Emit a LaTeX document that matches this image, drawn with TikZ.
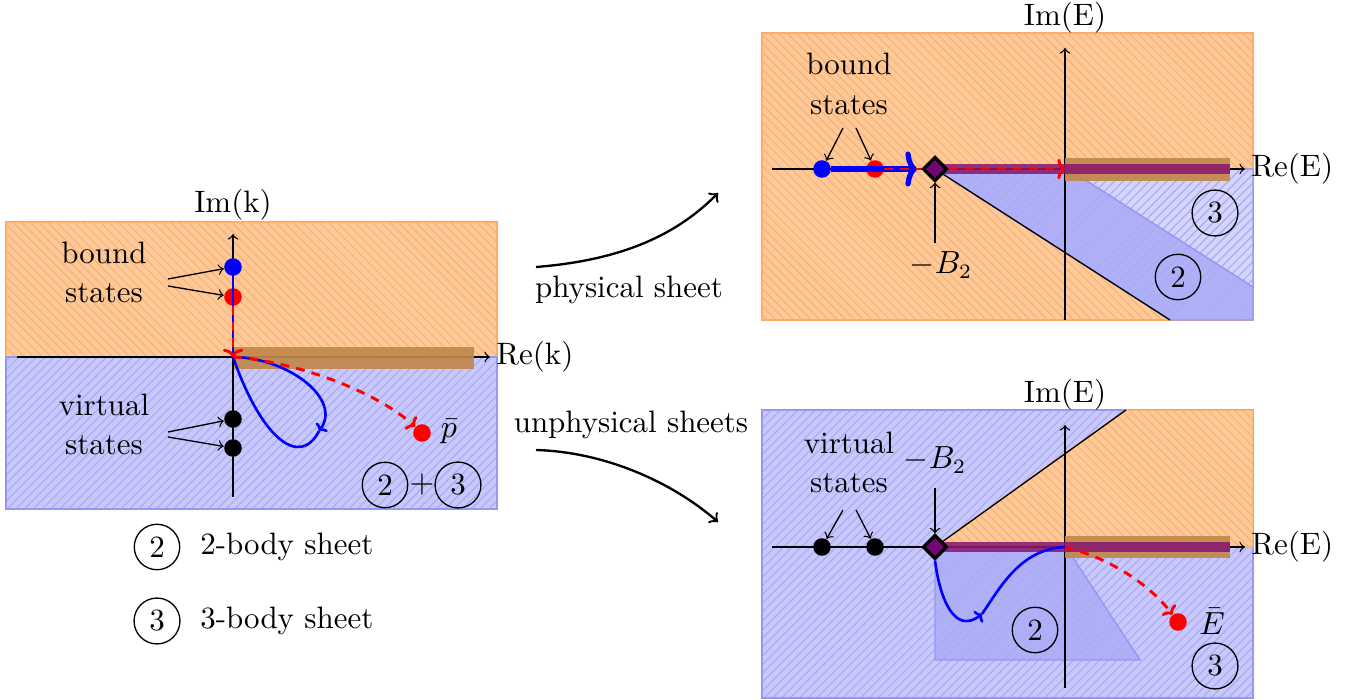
\documentclass[tikz,border=0pt]{standalone}
\usetikzlibrary{patterns,shapes.geometric,arrows.meta}
\definecolor{obg}{RGB}{255,201,151}
\definecolor{ohatch}{RGB}{246,180,125}
\definecolor{oedge}{RGB}{255,172,100}
\definecolor{bbg}{RGB}{200,200,252}
\definecolor{bhatch}{RGB}{172,172,242}
\definecolor{bedge}{RGB}{150,150,245}
\definecolor{bdark}{RGB}{176,176,249}
\definecolor{blight}{RGB}{212,212,252}
\definecolor{barc}{RGB}{194,135,75}
\definecolor{cutc}{RGB}{138,24,112}
\definecolor{diac}{RGB}{112,8,112}
\newcommand{\oarea}[1]{\fill[obg] #1; \fill[pattern=north west lines, pattern color=ohatch] #1; \draw[oedge, line width=0.5pt] #1;}
\newcommand{\barea}[2]{\fill[#2] #1; \fill[pattern=north east lines, pattern color=bhatch] #1; \draw[bedge, line width=0.5pt] #1;}
\tikzset{
  axis/.style={-to, line width=0.45pt},
  dot/.style={circle, inner sep=0pt, minimum size=6pt},
  dia/.style={diamond, draw=black, fill=diac, line width=1.1pt, inner sep=0pt, minimum width=8.2pt, minimum height=8.2pt},
  circnum/.style={circle, draw, line width=0.45pt, inner sep=2.4pt},
  blueline/.style={blue, line width=0.9pt},
  redline/.style={red, line width=1pt, dash pattern=on 3pt off 2.5pt},
  small/.style={-to, line width=0.45pt},
  big/.style={-to, line width=0.8pt},
  brownbar/.style={fill=barc, opacity=0.92},
  cut/.style={cutc, opacity=0.88, line width=3.3pt},
}
\begin{document}
\begin{tikzpicture}[x=0.3425pt, y=-0.3425pt, font=\fontsize{10.6}{13.4}\selectfont]
\useasboundingbox (0,0) rectangle (1361,700);

% ================= left panel =================
\oarea{(6,222) rectangle (497,357)}
\barea{(6,357) rectangle (497,509)}{bbg}
\coordinate (kO) at (233,357);
\coordinate (kRs) at (17,357);
\coordinate (kRe) at (490,357);
\coordinate (kIs) at (233,497);
\coordinate (kIe) at (233,234);
\draw[axis] (kRs) -- (kRe);
\fill[brownbar] (233,347) rectangle (474,369);
\draw[axis] (kIs) -- (kIe);
\node[anchor=west, inner sep=2pt] (kRel) at (kRe) {Re(k)};
\node (kIml) at (233,205) {Im(k)};

\node[dot, fill=blue] (kb1) at (233,267) {};
\node[dot, fill=red] (kb2) at (233,297) {};
\node[dot, fill=black] (kv1) at (233,419) {};
\node[dot, fill=black] (kv2) at (233,448) {};
\node[dot, fill=red] (pbar) at (422,433) {};
\node (pbarl) at (449,432) {$\bar p$};

\draw[blueline] (kb1) -- (kO);
\draw[redline, -{To[length=2.8pt,width=7pt]}] (kb2) -- (kO);

\coordinate (kM) at (319,431);
\draw[blueline, -{To[length=2pt,width=5pt]}] (kO) .. controls (290,358) and (342,400) .. (kM);
\draw[blueline] (kM) .. controls (300,468) and (262,440) .. (kO);
\draw[redline, -{To[length=2.4pt,width=6pt]}] (kO) .. controls (300,362) and (378,393) .. (pbar);

\node[align=center] (kbound) at (104,272) {bound\\states};
\node[align=center] (kvirt) at (104,424) {virtual\\states};
\coordinate (kbA) at (168,279);
\coordinate (kbB) at (168,286);
\coordinate (kvA) at (168,432);
\coordinate (kvB) at (168,437);
\draw[small] (kbA) -- (kb1);
\draw[small] (kbB) -- (kb2);
\draw[small] (kvA) -- (kv1);
\draw[small] (kvB) -- (kv2);

\node[circnum] (k2) at (385,485) {2};
\node (kplus) at (422,485) {$+$};
\node[circnum] (k3) at (458,485) {3};

% legend
\node[circnum] (lg2) at (157,547) {2};
\node[anchor=west] (lg2t) at (190,547) {2-body sheet};
\node[circnum] (lg3) at (157,621) {3};
\node[anchor=west] (lg3t) at (190,621) {3-body sheet};

% middle arrows
\node (phys) at (629,290) {physical sheet};
\node (unphys) at (631,425) {unphysical sheets};
\coordinate (pA) at (536,267);
\coordinate (pB) at (718,193);
\coordinate (uA) at (536,450);
\coordinate (uB) at (718,522);
\draw[big] (pA) .. controls (612,261) and (672,240) .. (pB);
\draw[big] (uA) .. controls (605,452) and (672,482) .. (uB);

% ================= top right panel =================
\oarea{(762,33) rectangle (1253,320)}
\barea{(935,169) -- (1170,320) -- (1253,320) -- (1253,169) -- cycle}{bdark}
\barea{(1068,169) -- (1253,287) -- (1253,169) -- cycle}{blight}
\coordinate (tO) at (1065,169);
\coordinate (tCe) at (1230,169);
\coordinate (tL) at (1170,320);
\coordinate (tRs) at (772,169);
\coordinate (tRe) at (1245,169);
\coordinate (tIs) at (1065,320);
\coordinate (tIe) at (1065,48);
\node[dia] (tD) at (935,169) {};
\draw[line width=0.45pt] (tD.center) -- (tL);
\draw[axis] (tRs) -- (tRe);
\draw[axis] (tIs) -- (tIe);
\fill[brownbar] (1065,158) rectangle (1230,181);
\draw[cut] (tD.center) -- (tCe);
\node[anchor=west, inner sep=2pt] (tRel) at (tRe) {Re(E)};
\node (tIml) at (1065,18) {Im(E)};

\node[dot, fill=blue] (tb1) at (822,169) {};
\node[dot, fill=red] (tb2) at (875,169) {};
\draw[blue, line width=1.8pt, -{To[length=4pt,width=12pt]}, shorten >=1.5pt] (tb1) -- (tD);
\draw[redline, -{To[length=2.6pt,width=7pt]}] (tb2) -- (tO);
\node[dia] (tD2) at (tD) {};

\node[align=center] (tbound) at (849,84) {bound\\states};
\coordinate (tbA) at (843,128);
\coordinate (tbB) at (856,128);
\draw[small] (tbA) -- (tb1);
\draw[small] (tbB) -- (tb2);
\node (tB2) at (941,265) {$-B_2$};
\coordinate (tBa) at (935,243);
\draw[small] (tBa) -- (tD2);
\node[circnum] (t3) at (1215,213) {3};
\node[circnum] (t2) at (1178,277) {2};

% ================= bottom right panel =================
\barea{(762,410) rectangle (1253,698)}{bbg}
\oarea{(935,547) -- (1126,410) -- (1253,410) -- (1253,547) -- cycle}
\barea{(935,547) -- (935,660) -- (1140,660) -- (1066,547) -- cycle}{bdark}
\coordinate (bO) at (1065,547);
\coordinate (bCe) at (1230,547);
\coordinate (bL) at (1126,410);
\coordinate (bRs) at (772,547);
\coordinate (bRe) at (1245,547);
\coordinate (bIs) at (1065,688);
\coordinate (bIe) at (1065,425);
\node[dia] (bD) at (935,547) {};
\draw[line width=0.45pt] (bD.center) -- (bL);
\draw[axis] (bRs) -- (bRe);
\draw[axis] (bIs) -- (bIe);
\fill[brownbar] (1065,536) rectangle (1230,558);
\draw[cut] (bD.center) -- (bCe);
\node[anchor=west, inner sep=2pt] (bRel) at (bRe) {Re(E)};
\node (bIml) at (1065,395) {Im(E)};

\node[dot, fill=black] (bv1) at (822,547) {};
\node[dot, fill=black] (bv2) at (875,547) {};
\node[dot, fill=red] (Ebar) at (1178,622) {};
\node[inner sep=1pt] (Ebarl) at (1212,621) {$\bar E$};

\coordinate (bM) at (982,614);
\draw[blueline, -{To[length=2pt,width=5pt]}] (bD.south) .. controls (940,600) and (955,635) .. (bM);
\draw[blueline] (bM) .. controls (1000,588) and (1020,549) .. (bO);
\draw[redline, -{To[length=2.4pt,width=6pt]}] (bO) .. controls (1110,558) and (1150,585) .. (Ebar);
\node[dia] (bD2) at (bD) {};

\node[align=center] (bvirt) at (849,462) {virtual\\states};
\coordinate (bvA) at (843,510);
\coordinate (bvB) at (856,510);
\draw[small] (bvA) -- (bv1);
\draw[small] (bvB) -- (bv2);
\node (bB2) at (935,460) {$-B_2$};
\coordinate (bBa) at (935,488);
\draw[small] (bBa) -- (bD2);
\node[circnum] (b2) at (1035,630) {2};
\node[circnum] (b3) at (1215,666) {3};
\end{tikzpicture}
\end{document}
